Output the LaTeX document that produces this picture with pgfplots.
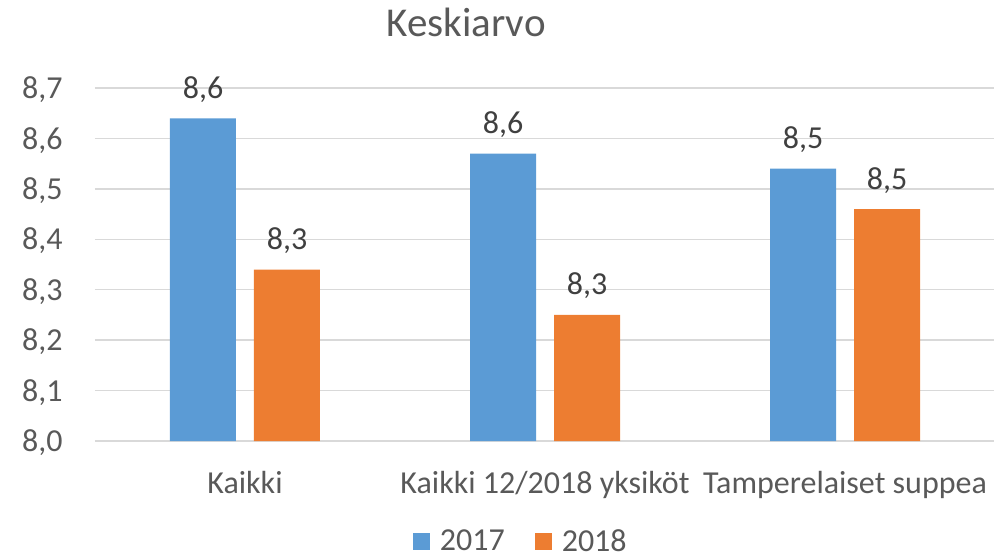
\documentclass[border=0pt]{standalone}
\usepackage{pgfplots}
\pgfplotsset{compat=1.18}
\usepackage{fontspec}
\setmainfont{Carlito}
\definecolor{cblue}{HTML}{5B9BD5}
\definecolor{corange}{HTML}{ED7D31}
\definecolor{tgray}{HTML}{595959}
\definecolor{lgray}{HTML}{404040}
\definecolor{gridc}{HTML}{D9D9D9}
\begin{document}
\begin{tikzpicture}
\path[use as bounding box] (-47.5bp,-58.5bp) rectangle (449.5bp,220.5bp);
\begin{axis}[
  at={(0,0)}, anchor=south west,
  scale only axis, width=450bp, height=176.5bp,
  xmin=-0.5, xmax=2.5, ymin=8, ymax=8.7,
  xtick={0,1,2},
  xticklabels={Kaikki, Kaikki 12/2018 yksiköt, Tamperelaiset suppea},
  ytick={8,8.1,8.2,8.3,8.4,8.5,8.6,8.7},
  ymajorgrids,
  major grid style={draw=gridc, line width=0.75bp},
  axis line style={draw=none},
  major tick length=0,
  y tick label style={/pgf/number format/fixed, /pgf/number format/fixed zerofill,
    /pgf/number format/precision=1, /pgf/number format/use comma,
    /pgf/number format/assume math mode=true,
    anchor=base east, inner sep=0, xshift=-16bp, yshift=-5.3bp,
    text=tgray, font=\fontsize{16bp}{19bp}\selectfont},
  x tick label style={anchor=base, inner sep=0, yshift=-26bp,
    text=tgray, font=\fontsize{16bp}{19bp}\selectfont},
  ybar, bar width=0.22,
  nodes near coords, point meta=explicit symbolic,
  nodes near coords style={anchor=base, inner sep=0, yshift=10bp,
    text=lgray, font=\fontsize{16bp}{19bp}\selectfont},
  legend columns=2,
  legend image code/.code={\fill[#1] (0bp,-4.25bp) rectangle (8.5bp,4.25bp);},
  legend style={at={(0.472,-0.285)}, anchor=center, draw=none, fill=none,
    inner sep=0, font=\fontsize{16bp}{19bp}\selectfont, text=tgray,
    nodes={inner sep=0},
    /tikz/every odd column/.append style={column sep=5bp},
    /tikz/every even column/.append style={column sep=15bp}},
]
\addplot[fill=cblue, draw=none, bar shift=-0.14] table[x=x, y=y, meta=lab] {
x y lab
0 8.64 8,6
1 8.57 8,6
2 8.54 8,5
};
\addplot[fill=corange, draw=none, bar shift=0.14] table[x=x, y=y, meta=lab] {
x y lab
0 8.34 8,3
1 8.25 8,3
2 8.46 8,5
};
\legend{2017, 2018}
\end{axis}
\node[anchor=base, text=tgray, font=\fontsize{20.5bp}{24bp}\selectfont] at (185.5bp,202bp) {Keskiarvo};
\end{tikzpicture}
\end{document}
